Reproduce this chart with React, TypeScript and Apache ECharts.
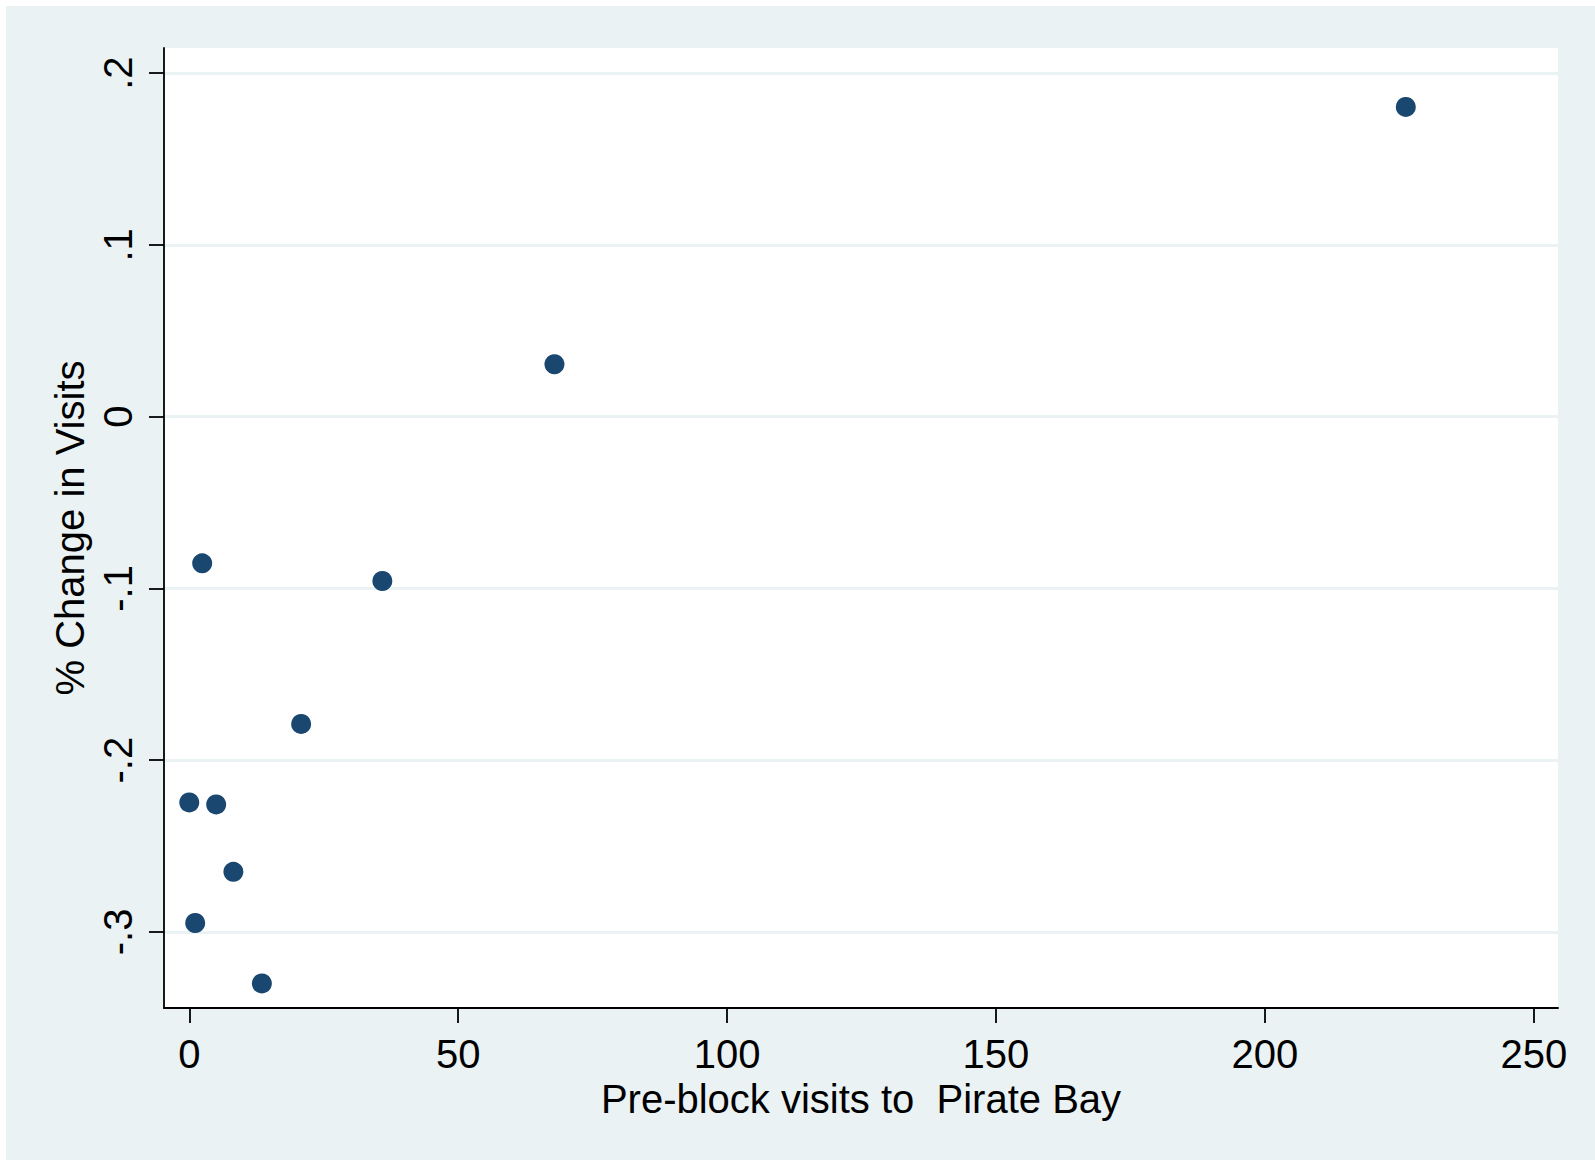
import React, { useEffect, useRef } from "react";
import * as echarts from "echarts";

// Pre-block visits to Pirate Bay (x) vs % change in visits (y)
const preBlockVisits = [0, 5, 8.2, 1.1, 13.5, 2.4, 20.8, 35.9, 67.9, 226.2];
const changeInVisits = [-0.2246, -0.2258, -0.265, -0.2948, -0.33, -0.0854, -0.1789, -0.0957, 0.0305, 0.1803];

const xTickValues = [0, 50, 100, 150, 200, 250];
const yTickValues = [-0.3, -0.2, -0.1, 0, 0.1, 0.2];
const yTickLabels = ["-.3", "-.2", "-.1", "0", ".1", ".2"];

const xTitle = "Pre-block visits to  Pirate Bay";
const yTitle = "% Change in Visits";

const FONT = "Liberation Sans, Arial, Helvetica, sans-serif";
const BG = "#eaf2f3";
const NAVY = "#1a476f";

export default function App() {
  const ref = useRef<HTMLDivElement>(null);

  useEffect(() => {
    if (!ref.current) return;
    const chart = echarts.init(ref.current, null, { renderer: "svg" });
    const points = preBlockVisits.map((x, i) => [x, changeInVisits[i]]);
    const yLabel = (v: number) => {
      let best = 0;
      for (let i = 1; i < yTickValues.length; i++) {
        if (Math.abs(yTickValues[i] - v) < Math.abs(yTickValues[best] - v)) best = i;
      }
      return yTickLabels[best];
    };
    chart.setOption({
      animation: false,
      backgroundColor: "#ffffff",
      graphic: [
        {
          type: "rect",
          z: -10,
          silent: true,
          shape: { x: 6, y: 6, width: 1595, height: 1160 },
          style: { fill: BG },
        },
      ],
      grid: {
        left: 164,
        top: 48,
        right: 37,
        bottom: 152,
        show: true,
        backgroundColor: "#ffffff",
        borderWidth: 0,
      },
      xAxis: {
        type: "value",
        min: -4.7,
        max: 254.5,
        name: xTitle,
        nameLocation: "middle",
        nameGap: 67,
        nameTextStyle: { fontFamily: FONT, fontSize: 40, color: "#000" },
        axisLine: { show: true, onZero: false, lineStyle: { color: "#000", width: 1.8 } },
        axisTick: { show: true, length: 15, customValues: xTickValues, lineStyle: { color: "#000", width: 1.8 } },
        axisLabel: {
          customValues: xTickValues,
          margin: 26,
          fontFamily: FONT,
          fontSize: 40,
          color: "#000",
        },
        splitLine: { show: false },
      },
      yAxis: {
        type: "value",
        min: -0.3443,
        max: 0.2146,
        name: yTitle,
        nameLocation: "middle",
        nameRotate: 90,
        nameGap: 71,
        nameTextStyle: { fontFamily: FONT, fontSize: 40, color: "#000" },
        axisLine: { show: true, onZero: false, lineStyle: { color: "#000", width: 1.8 } },
        axisTick: { show: true, length: 15, customValues: yTickValues, lineStyle: { color: "#000", width: 1.8 } },
        axisLabel: {
          customValues: yTickValues,
          rotate: 90,
          margin: 26,
          fontFamily: FONT,
          fontSize: 40,
          color: "#000",
          formatter: (v: number) => yLabel(v),
        },
        splitLine: { show: true, lineStyle: { color: BG, width: 3 } },
      },
      series: [
        {
          type: "scatter",
          data: points,
          symbol: "circle",
          symbolSize: 20,
          itemStyle: { color: NAVY, opacity: 1 },
        },
      ],
    });
    return () => chart.dispose();
  }, []);

  return (
    <div
      ref={ref}
      style={{ position: "absolute", left: 0, top: 0, width: 1595, height: 1160 }}
    />
  );
}
